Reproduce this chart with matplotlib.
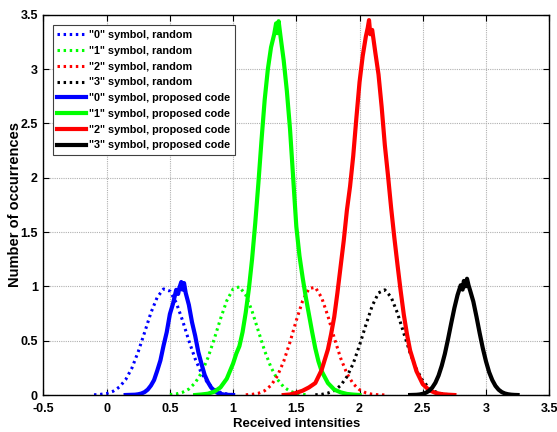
import matplotlib
matplotlib.use("Agg")
import matplotlib.pyplot as plt

plt.rcParams['font.family'] = ['Liberation Sans', 'DejaVu Sans']
plt.rcParams['font.weight'] = 'bold'

# ---- data: random (dotted) ----
x_rand0 = [-0.10, -0.05, 0.00, 0.05, 0.10, 0.15, 0.20, 0.25, 0.30, 0.35, 0.40, 0.45, 0.50,
           0.55, 0.60, 0.65, 0.70, 0.75, 0.80, 0.85, 0.90, 0.95, 1.00]
y_rand0 = [0.002, 0.006, 0.014, 0.034, 0.073, 0.141, 0.249, 0.40, 0.576, 0.757, 0.90, 0.976, 0.957,
           0.851, 0.686, 0.50, 0.333, 0.20, 0.11, 0.054, 0.024, 0.01, 0.004]

x_rand1 = [0.50, 0.55, 0.60, 0.65, 0.70, 0.75, 0.80, 0.85, 0.90, 0.95, 1.00, 1.05, 1.10,
           1.15, 1.20, 1.25, 1.30, 1.35, 1.40, 1.45, 1.50, 1.55, 1.60]
y_rand1 = [0.004, 0.010, 0.025, 0.055, 0.112, 0.205, 0.34, 0.513, 0.70, 0.868, 0.976, 0.996, 0.921,
           0.772, 0.588, 0.405, 0.254, 0.144, 0.074, 0.035, 0.015, 0.006, 0.002]

x_rand2 = [1.10, 1.15, 1.20, 1.25, 1.30, 1.35, 1.40, 1.45, 1.50, 1.55, 1.60, 1.65, 1.70,
           1.75, 1.80, 1.85, 1.90, 1.95, 2.00, 2.05, 2.10, 2.15, 2.20]
y_rand2 = [0.002, 0.006, 0.016, 0.040, 0.089, 0.175, 0.309, 0.487, 0.687, 0.867, 0.98, 0.991, 0.897,
           0.726, 0.526, 0.341, 0.198, 0.103, 0.048, 0.020, 0.007, 0.002, 0.001]

x_rand3 = [1.65, 1.70, 1.75, 1.80, 1.85, 1.90, 1.95, 2.00, 2.05, 2.10, 2.15, 2.20, 2.25,
           2.30, 2.35, 2.40, 2.45, 2.50, 2.55, 2.60, 2.65, 2.70, 2.75]
y_rand3 = [0.002, 0.006, 0.018, 0.041, 0.087, 0.168, 0.29, 0.458, 0.645, 0.82, 0.94, 0.968, 0.90,
           0.754, 0.569, 0.387, 0.238, 0.131, 0.065, 0.030, 0.012, 0.004, 0.001]

# ---- data: proposed code (solid) ----
x_prop0 = [0.150, 0.175, 0.200, 0.225, 0.250, 0.275, 0.300, 0.325, 0.350, 0.375, 0.400, 0.425,
           0.450, 0.475, 0.500, 0.525, 0.550, 0.565, 0.575, 0.590, 0.600, 0.612, 0.625, 0.650,
           0.675, 0.700, 0.725, 0.750, 0.775, 0.800, 0.825, 0.850, 0.875, 0.900, 0.925, 0.950,
           0.975, 1.000]
y_prop0 = [0.0, 0.001, 0.002, 0.003, 0.007, 0.014, 0.027, 0.05, 0.087, 0.138, 0.224, 0.318,
           0.455, 0.578, 0.745, 0.842, 0.968, 0.93, 0.985, 1.04, 0.97, 1.03, 0.94, 0.83,
           0.67, 0.545, 0.395, 0.287, 0.185, 0.12, 0.071, 0.04, 0.021, 0.011, 0.005, 0.002,
           0.001, 0.0]

x_prop1 = [0.70, 0.75, 0.80, 0.85, 0.90, 0.95, 1.00, 1.025, 1.05, 1.075, 1.10, 1.125, 1.15,
           1.175, 1.20, 1.225, 1.25, 1.275, 1.30, 1.325, 1.34, 1.35, 1.36, 1.375, 1.40, 1.425,
           1.45, 1.475, 1.50, 1.525, 1.55, 1.575, 1.60, 1.625, 1.65, 1.675, 1.70, 1.75, 1.80,
           1.85, 1.90, 1.95, 2.00]
y_prop1 = [0.0, 0.005, 0.012, 0.03, 0.07, 0.15, 0.29, 0.38, 0.45, 0.58, 0.76, 0.98, 1.25,
           1.58, 1.95, 2.35, 2.72, 3.0, 3.2, 3.32, 3.42, 3.33, 3.44, 3.3, 3.08, 2.8,
           2.45, 2.0, 1.55, 1.28, 1.08, 0.9, 0.74, 0.58, 0.43, 0.31, 0.22, 0.11, 0.05,
           0.025, 0.01, 0.004, 0.0]

x_prop2 = [1.40, 1.45, 1.50, 1.55, 1.60, 1.65, 1.70, 1.75, 1.775, 1.80, 1.825, 1.85, 1.875,
           1.90, 1.925, 1.95, 1.975, 2.00, 2.025, 2.05, 2.065, 2.075, 2.085, 2.10, 2.125, 2.15,
           2.175, 2.20, 2.225, 2.25, 2.275, 2.30, 2.325, 2.35, 2.375, 2.40, 2.45, 2.50, 2.55,
           2.60, 2.65, 2.70, 2.75]
y_prop2 = [0.0, 0.005, 0.02, 0.04, 0.07, 0.11, 0.23, 0.42, 0.56, 0.72, 0.94, 1.18, 1.42,
           1.7, 1.92, 2.2, 2.55, 2.88, 3.12, 3.3, 3.38, 3.45, 3.32, 3.36, 3.15, 2.95,
           2.65, 2.3, 2.02, 1.72, 1.45, 1.2, 0.96, 0.74, 0.56, 0.41, 0.22, 0.1, 0.045,
           0.02, 0.008, 0.003, 0.0]

x_prop3 = [2.400, 2.425, 2.450, 2.475, 2.500, 2.525, 2.550, 2.575, 2.600, 2.625, 2.650, 2.675,
           2.700, 2.725, 2.750, 2.775, 2.800, 2.815, 2.825, 2.840, 2.850, 2.862, 2.875, 2.900,
           2.925, 2.950, 2.975, 3.000, 3.025, 3.050, 3.075, 3.100, 3.125, 3.150, 3.175, 3.200,
           3.225, 3.250]
y_prop3 = [0.0, 0.001, 0.002, 0.005, 0.011, 0.021, 0.039, 0.068, 0.113, 0.179, 0.269, 0.38,
           0.515, 0.66, 0.80, 0.92, 1.01, 0.97, 1.05, 1.0, 1.07, 1.01, 0.96, 0.86,
           0.72, 0.57, 0.43, 0.31, 0.21, 0.137, 0.084, 0.049, 0.027, 0.014, 0.007, 0.003,
           0.001, 0.0]

labels_rand = ['"0" symbol, random', '"1" symbol, random', '"2" symbol, random', '"3" symbol, random']
labels_prop = ['"0" symbol, proposed code', '"1" symbol, proposed code',
               '"2" symbol, proposed code', '"3" symbol, proposed code']
colors = ['#0000ff', '#00ff00', '#ff0000', '#000000']

xticks = [-0.5, 0, 0.5, 1, 1.5, 2, 2.5, 3, 3.5]
xticklabels = ['-0.5', '0', '0.5', '1', '1.5', '2', '2.5', '3', '3.5']
yticks = [0, 0.5, 1, 1.5, 2, 2.5, 3, 3.5]
yticklabels = ['0', '0.5', '1', '1.5', '2', '2.5', '3', '3.5']

fig = plt.figure(figsize=(5.57, 4.32), dpi=100)
ax = fig.add_axes([0.078, 0.0856, 0.908, 0.8804])

rand_x = [x_rand0, x_rand1, x_rand2, x_rand3]
rand_y = [y_rand0, y_rand1, y_rand2, y_rand3]
prop_x = [x_prop0, x_prop1, x_prop2, x_prop3]
prop_y = [y_prop0, y_prop1, y_prop2, y_prop3]

for xs, ys, c, lab in zip(rand_x, rand_y, colors, labels_rand):
    ax.plot(xs, ys, color=c, linestyle=(0, (0.8, 1.2)), linewidth=2.2, label=lab)
for xs, ys, c, lab in zip(prop_x, prop_y, colors, labels_prop):
    ax.plot(xs, ys, color=c, linestyle='-', linewidth=3.0, label=lab)

ax.set_xlim(-0.5, 3.5)
ax.set_ylim(0, 3.5)
ax.set_xticks(xticks)
ax.set_xticklabels(xticklabels)
ax.set_yticks(yticks)
ax.set_yticklabels(yticklabels)
ax.tick_params(direction='in', top=True, right=True, labelsize=9, length=4, width=0.8)
ax.tick_params(axis='x', pad=6)
ax.tick_params(axis='y', pad=4)
for lbl in ax.get_xticklabels() + ax.get_yticklabels():
    lbl.set_fontweight('bold')
ax.grid(True, color='#b0b0b0', linestyle=(0, (1, 1)), linewidth=0.8)
for sp in ax.spines.values():
    sp.set_linewidth(1.0)
    sp.set_color('black')

ax.set_xlabel('Received intensities', fontsize=9.5, fontweight='bold', labelpad=2)
ax.set_ylabel('Number of occurrences', fontsize=10.5, fontweight='bold', labelpad=-1)

leg = ax.legend(loc='upper left', bbox_to_anchor=(0.018, 0.972), fontsize=7.8,
                handlelength=2.6, handletextpad=0.3, borderpad=0.45, labelspacing=0.53,
                fancybox=False, framealpha=1, edgecolor='#404040', borderaxespad=0)
leg.get_frame().set_linewidth(0.8)
for t in leg.get_texts():
    t.set_fontweight('bold')

fig.savefig('out.png', dpi=100)
